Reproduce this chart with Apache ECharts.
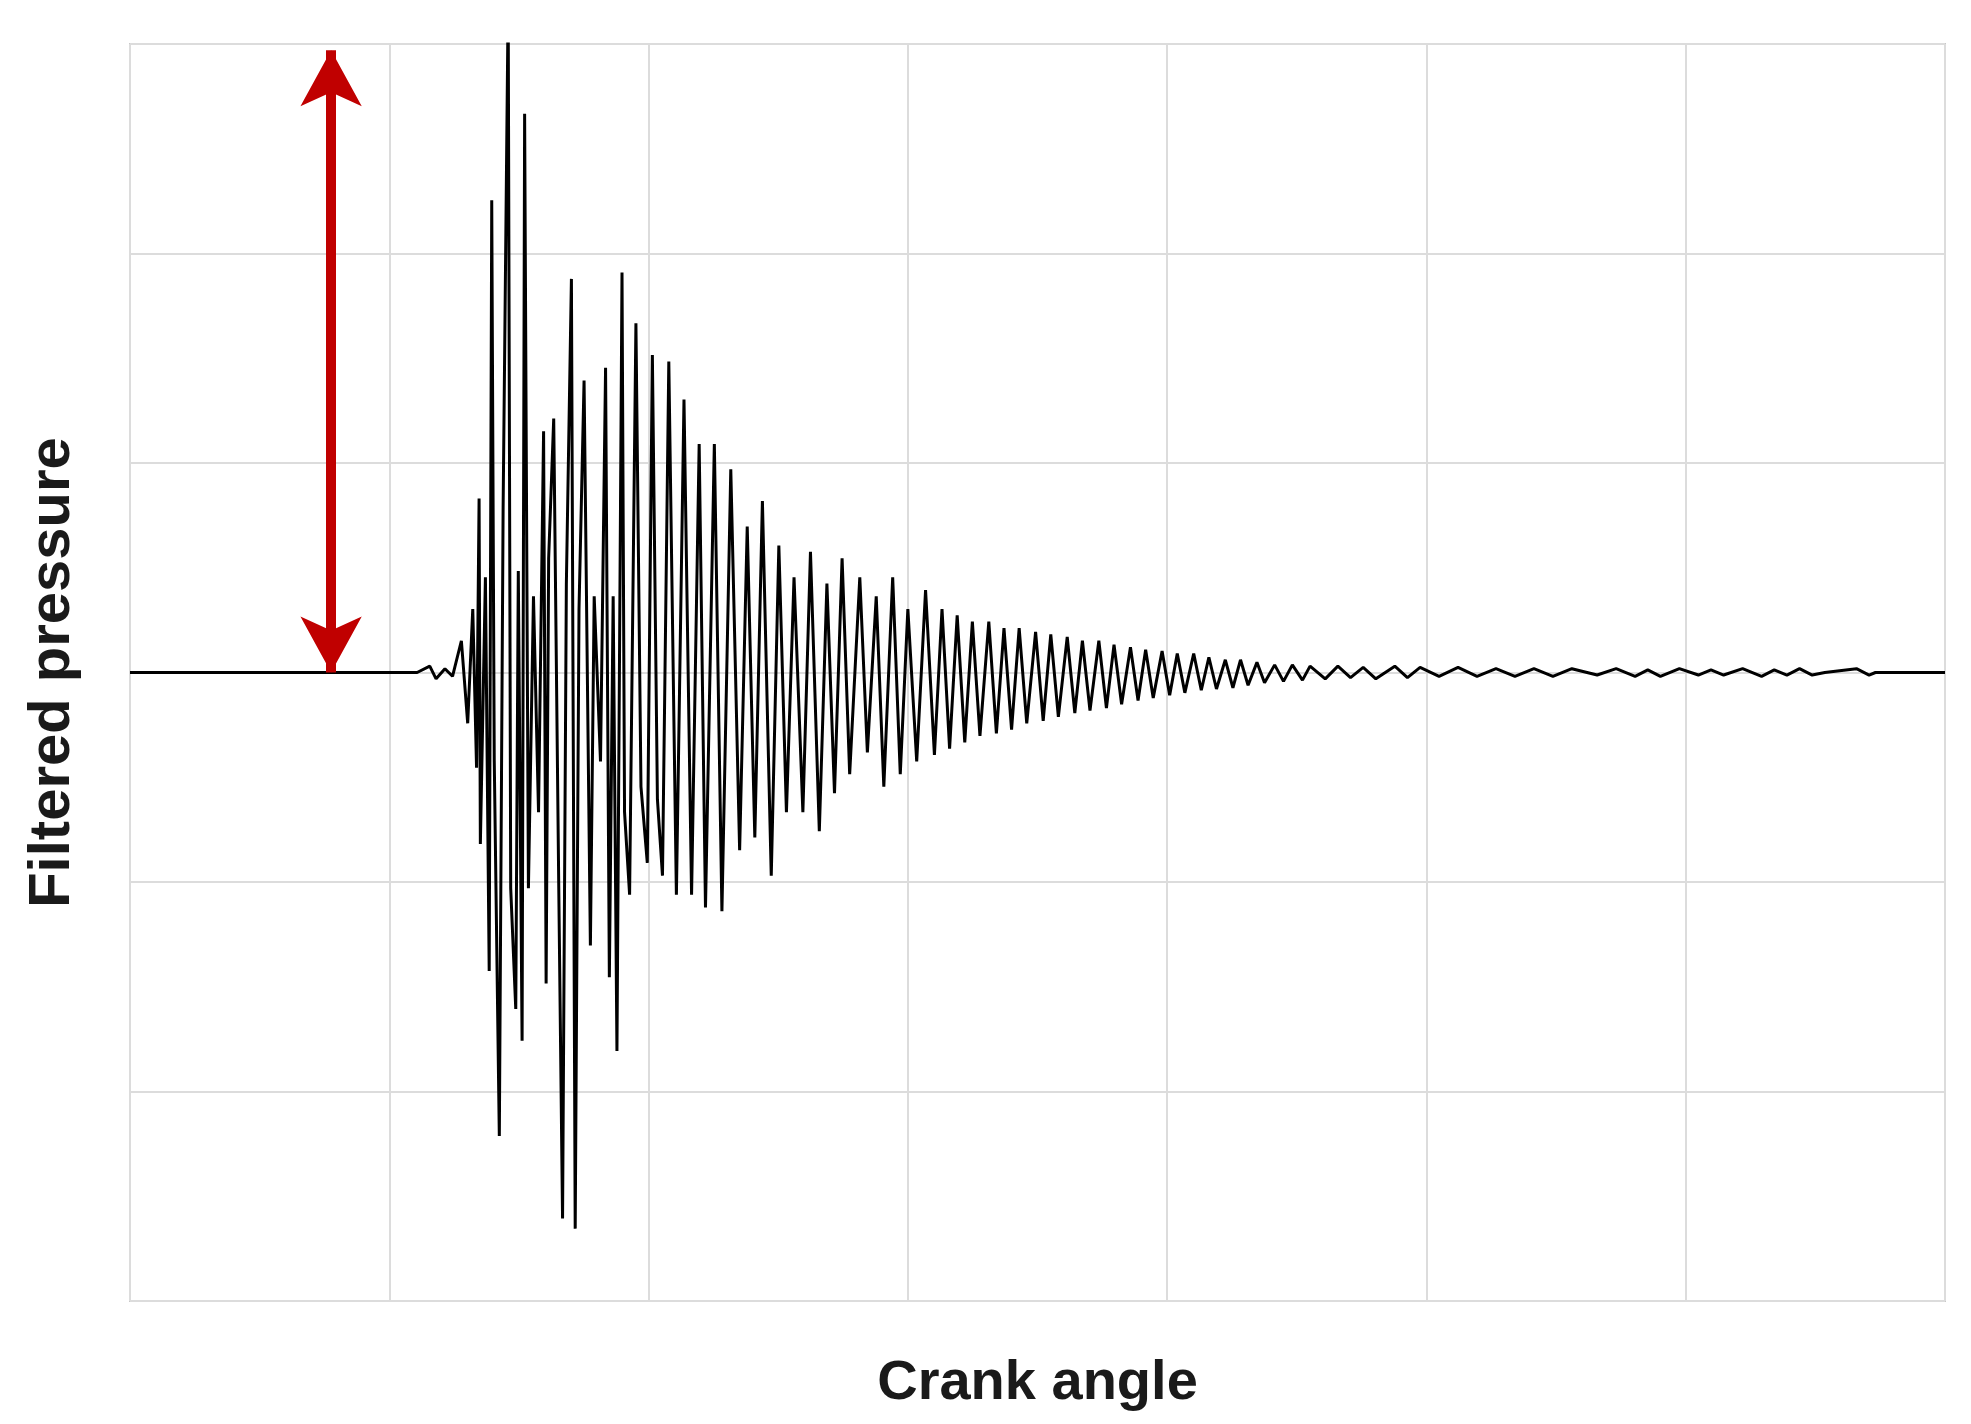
<!DOCTYPE html>
<html>
<head>
<meta charset="utf-8">
<script src="https://cdn.jsdelivr.net/npm/echarts@6/dist/echarts.min.js"></script>
<style>html,body{margin:0;background:#fff}#c{width:1971px;height:1424px}</style>
</head>
<body>
<div id="c"></div>
<script>
// crank angle (arbitrary units) and filtered pressure (arbitrary units)
var angle = [0,227,237,242,249,255,262,267,271,274,276,277,281,284,286,288,292,295,299,301,305,307,310,312,315,319,323,327,329,331,335,339,342,345,349,352,355,359,364,367,372,376,379,382,385,389,391,395,400,404,409,413,417,421,426,432,
  438,444,450,455,462,468,475,482,488,494,500,507,513,519,525,532,538,545,551,557,563,569,577,583,590,596,603,609,615,622,629,636,642,648,654,660,666,672,679,685,691,697,703,709,716,722,728,734,741,747,753,759,766,772,778,784,791,797,803,809,816,822,828,834,841,847,853,859,866,872,878,884,891,897,905,912,919,927,933,
  945,955,965,975,985,1000,1010,1020,1035,1050,1065,1080,1095,1110,1125,1140,1160,1175,1190,1200,1210,1225,1240,1250,1260,1275,1290,1300,1310,1320,1330,1340,1365,1375,1380,1435];
var pressure = [0,0,5,-5,3,-3,25,-40,50,-75,137,-135,75,-235,372,-70,-365,130,530,-170,-265,80,-290,440,-170,60,-110,190,-245,90,200,-170,-430,70,310,-438,50,230,-215,60,-70,240,-240,60,-298,315,-110,-175,275,-90,-150,250,-100,-160,245,-175,
  215,-175,180,-185,180,-188,160,-140,115,-130,135,-160,100,-110,75,-110,95,-125,70,-95,90,-80,75,-63,60,-90,75,-80,50,-70,65,-65,50,-60,45,-55,40,-50,40,-48,35,-45,35,-40,32,-38,30,-35,28,-32,25,-30,25,-28,22,-25,20,-22,18,-20,17,-18,15,-16,15,-14,12,-13,10,-12,10,-10,8,-8,6,-7,6,-6,
  5,-5,5,-4,4,-5,5,-4,4,-3,4,-3,3,-3,3,-3,3,-2,3,-3,2,-3,3,-2,2,-2,3,-3,2,-2,3,-2,0,3,-2,0,0,0,0];
var xTicks = [0,205,410,615,820,1025,1230,1435];
var yTicks = [-495,-330,-165,0,165,330,495];

var data = angle.map(function(a,i){ return [a, pressure[i] || 0]; });
var chart = echarts.init(document.getElementById('c'));
chart.setOption({
  animation: false,
  grid: {left:130, right:26, top:44, bottom:123, show:true, borderColor:'#c8c8c8', borderWidth:2},
  xAxis: {
    type:'value', min:xTicks[0], max:xTicks[xTicks.length-1], interval:205,
    axisLabel:{show:false}, axisTick:{show:false}, axisLine:{show:false},
    splitLine:{show:true, lineStyle:{color:'#dcdcdc', width:2}},
    name:'Crank angle', nameLocation:'middle', nameGap:55,
    nameTextStyle:{fontFamily:'Liberation Sans', fontWeight:'bold', fontSize:56, color:'#1a1a1a'}
  },
  yAxis: {
    type:'value', min:yTicks[0], max:yTicks[yTicks.length-1], interval:165,
    axisLabel:{show:false}, axisTick:{show:false}, axisLine:{show:false},
    splitLine:{show:true, lineStyle:{color:'#dcdcdc', width:2}},
    name:'Filtered pressure', nameLocation:'middle', nameGap:48,
    nameTextStyle:{fontFamily:'Liberation Sans', fontWeight:'bold', fontSize:58, color:'#1a1a1a'}
  },
  series: [{
    type:'line', data:data, showSymbol:false, clip:true,
    lineStyle:{color:'#000', width:3},
    markLine: {
      silent:true, symbol:['arrow','arrow'], symbolSize:[46,56],
      lineStyle:{color:'#c00000', width:10, type:'solid'}, label:{show:false},
      data:[[{coord:[159,490]},{coord:[159,0]}]]
    }
  }]
});
</script>
</body>
</html>
